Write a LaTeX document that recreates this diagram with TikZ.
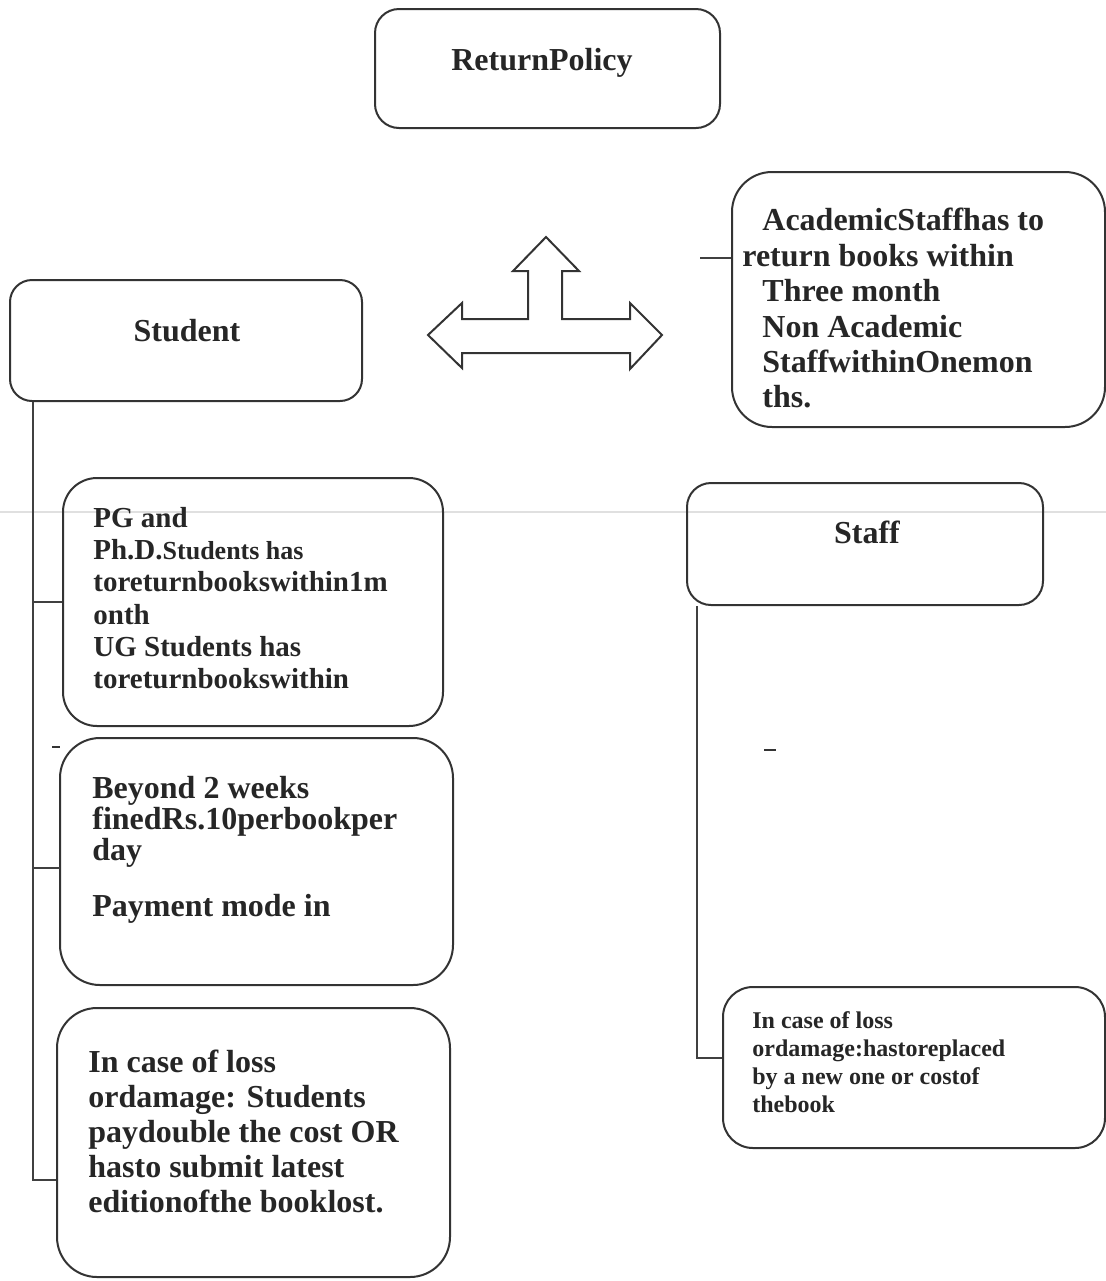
\documentclass[tikz,border=0pt]{standalone}
\usepackage{fontspec}
\setmainfont{Liberation Serif}
\begin{document}
\begin{tikzpicture}[x=0.5pt,y=-0.5pt,
  box/.style={draw=black!80, line width=1pt, inner sep=0pt},
  link/.style={draw=black!75, line width=0.75pt},
  txt/.style={inner sep=0pt, anchor=north west, align=left, text=black!85},
  head/.style={inner sep=0pt, anchor=base, text=black!85, font=\fontsize{16}{18}\selectfont\bfseries}]
\useasboundingbox (0,0) rectangle (1106,1281);
% faint scan line
\draw[black!12, line width=1pt] (0,512) -- (1106,512);

% boxes
\node[box, rounded corners=12pt, minimum width=172.5pt, minimum height=59.5pt] (ret) at (547.5,68.5) {};
\node[head] (rett) at (542,70) {ReturnPolicy};

\node[box, rounded corners=11pt, minimum width=176pt, minimum height=60.5pt] (stu) at (186,340.5) {};
\node[head] (stut) at (187,341) {Student};

\node[box, rounded corners=20pt, minimum width=186.5pt, minimum height=127.5pt] (acad) at (918.5,299.5) {};
\node[txt, font=\fontsize{16}{17.7}\selectfont\bfseries] (acadt) at (742,208)
  {\hspace*{10pt}AcademicStaffhas to\\return books within\\\hspace*{10pt}Three month\\\hspace*{10pt}Non Academic\\\hspace*{10pt}StaffwithinOnemon\\\hspace*{10pt}ths.};

\node[box, rounded corners=17pt, minimum width=190pt, minimum height=124pt] (pg) at (253,602) {};
\node[txt, font=\fontsize{14.5}{16.1}\selectfont\bfseries] (pgt) at (93,507)
  {PG and\\Ph.D.{\fontsize{13}{16.1}\selectfont Students has}\\toreturnbookswithin1m\\onth\\UG Students has\\toreturnbookswithin};

\node[box, rounded corners=20pt, minimum width=196.5pt, minimum height=123.5pt] (fine) at (256.5,861.5) {};
\node[txt, font=\fontsize{16}{15.5}\selectfont\bfseries] (finet) at (92,776)
  {Beyond 2 weeks\\finedRs.10perbookper\\day\\[12.5pt]Payment mode in};

\node[box, rounded corners=20pt, minimum width=196.5pt, minimum height=134.5pt] (loss) at (253.5,1142.5) {};
\node[txt, font=\fontsize{16}{17.5}\selectfont\bfseries] (losst) at (88,1050)
  {In case of loss\\ordamage: Students\\paydouble the cost OR\\hasto submit latest\\editionofthe booklost.};

\node[box, rounded corners=12pt, minimum width=178pt, minimum height=61pt] (staff) at (865,544) {};
\node[head] (stafft) at (867,543) {Staff};

\node[box, rounded corners=15pt, minimum width=191pt, minimum height=80.5pt] (sloss) at (914,1067.5) {};
\node[txt, font=\fontsize{12}{14}\selectfont\bfseries] (slosst) at (752,1011)
  {In case of loss\\ordamage:hastoreplaced\\by a new one or costof\\thebook};

% three-way block arrow
\draw[black!80, line width=1pt, line join=miter]
  (428,335) -- (462,303) -- (462,319) -- (528,319) -- (528,271) -- (513,271)
  -- (546,237) -- (579,271) -- (562,271) -- (562,319) -- (630,319) -- (630,303)
  -- (662,335) -- (630,369) -- (630,353) -- (462,353) -- (462,368) -- cycle;

% student tree
\coordinate (sv) at (33,1180);
\draw[link] (stu.south -| sv) -- (sv) -- (sv -| loss.west);
\draw[link] (pg.west) -- (pg.west -| sv);
\coordinate (fb) at (60,868);
\draw[link] (fb) -- (fb -| sv);

% staff tree
\coordinate (tv) at (697,1058);
\draw[link] (staff.south -| tv) -- (tv) -- (tv -| sloss.west);

% academic stub
\coordinate (al) at (700,258);
\draw[link] (al) -- (al -| acad.west);

% small stray marks
\draw[black!80, line width=1.2pt] (52,747) -- (60,747);
\draw[black!80, line width=1.2pt] (764,750) -- (776,750);
\end{tikzpicture}
\end{document}
